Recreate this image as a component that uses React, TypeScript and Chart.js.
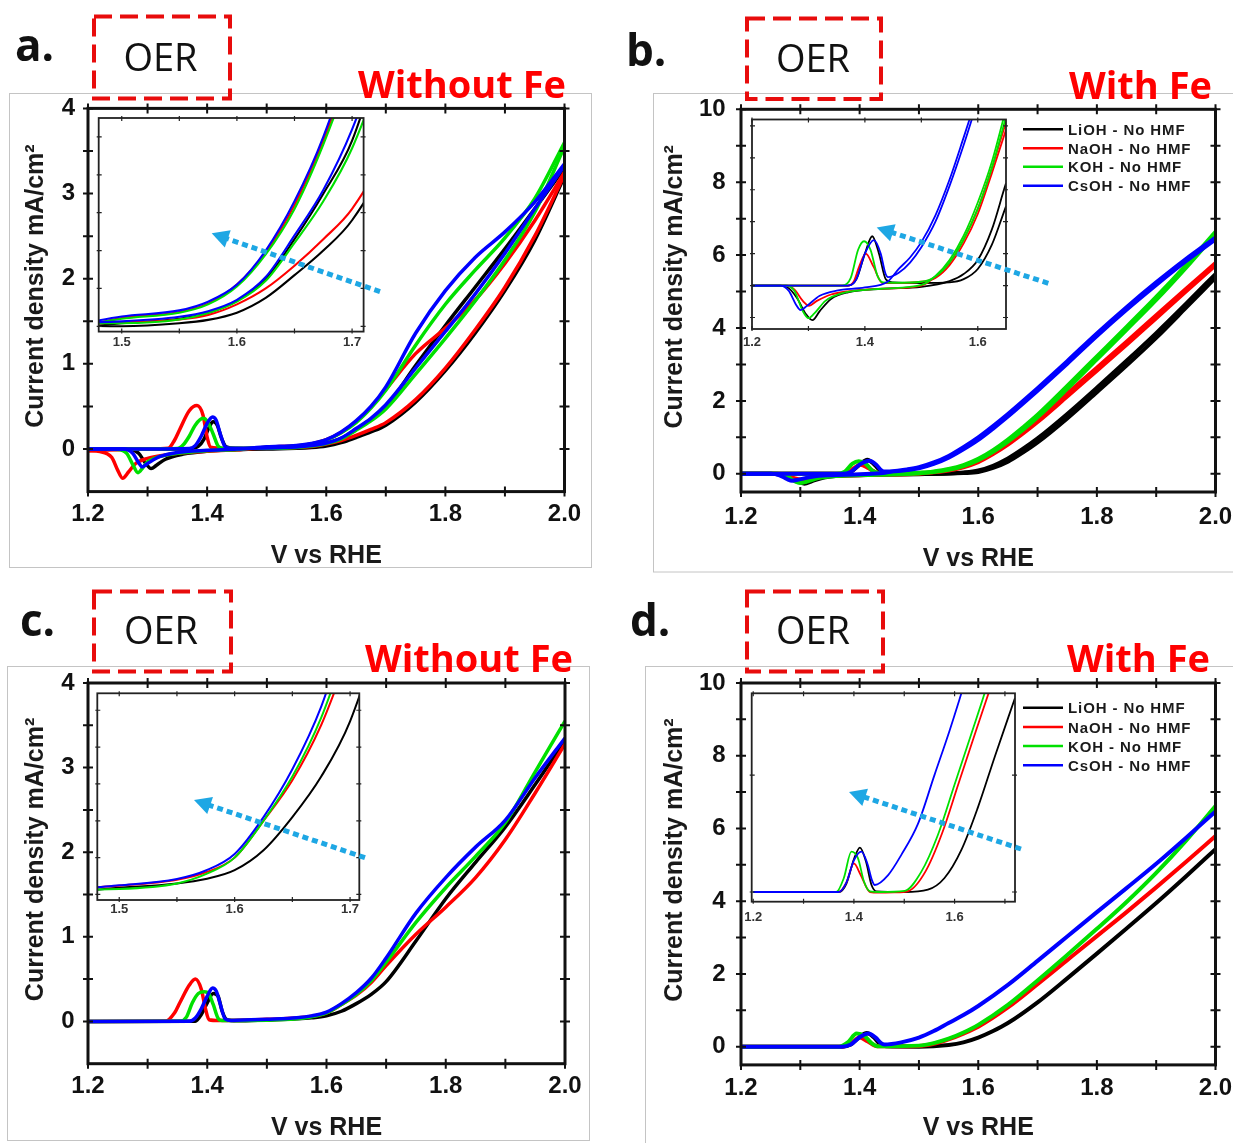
import React, { useEffect, useRef } from 'react';
import { Chart, registerables } from 'chart.js';

Chart.register(...registerables);

type Pt = [number, number];

// ---------------- data ----------------
const SERIES_NAMES = ['LiOH - No HMF', 'NaOH - No HMF', 'KOH - No HMF', 'CsOH - No HMF'];

const X_TICKS_MAIN = [1.2, 1.4, 1.6, 1.8, 2.0];
const X_MINOR_MAIN = [1.2, 1.3, 1.4, 1.5, 1.6, 1.7, 1.8, 1.9, 2.0];
const Y_TICKS_NOFE = [0, 1, 2, 3, 4];
const Y_MINOR_NOFE = [0, 0.5, 1, 1.5, 2, 2.5, 3, 3.5, 4];
const Y_TICKS_FE = [0, 2, 4, 6, 8, 10];
const Y_MINOR_FE = [0, 1, 2, 3, 4, 5, 6, 7, 8, 9, 10];
const INSET_X_TICKS_NOFE = [1.5, 1.6, 1.7];
const INSET_X_MINOR_NOFE = [1.5, 1.55, 1.6, 1.65, 1.7];
const INSET_Y_MINOR_NOFE = [0, 0.1, 0.2, 0.3, 0.4, 0.5];
const INSET_X_TICKS_FE = [1.2, 1.4, 1.6];
const INSET_X_MINOR_FE = [1.2, 1.3, 1.4, 1.5, 1.6, 1.7];
const INSET_Y_MINOR_B = [-0.25, 0, 0.25, 0.5, 0.75, 1, 1.25];
const INSET_Y_MINOR_D = [0, 1];

// Panel a: CV without Fe (forward / reverse sweeps), main + inset
const A_LIOH_FWD: Pt[] = [[1.2,0],[1.3,0],[1.37,0.004],[1.385,0.03],[1.395,0.12],[1.403,0.25],[1.41,0.32],[1.417,0.28],[1.424,0.13],[1.432,0.025],[1.45,0.006],[1.5,0.0],[1.55,0.008],[1.575,0.017],[1.6,0.036],[1.625,0.075],[1.65,0.135],[1.675,0.2],[1.7,0.28],[1.75,0.55],[1.8,0.92],[1.85,1.36],[1.9,1.86],[1.95,2.45],[2.0,3.2]];
const A_LIOH_REV: Pt[] = [[1.2,0],[1.27,-0.002],[1.285,-0.05],[1.297,-0.17],[1.306,-0.23],[1.315,-0.19],[1.33,-0.12],[1.36,-0.06],[1.4,-0.025],[1.45,-0.008],[1.5,0.008],[1.55,0.02],[1.575,0.035],[1.6,0.068],[1.625,0.125],[1.65,0.23],[1.675,0.35],[1.7,0.49],[1.75,0.98],[1.8,1.45],[1.85,1.9],[1.9,2.35],[1.95,2.82],[2.0,3.3]];
const A_NAOH_FWD: Pt[] = [[1.2,-0.02],[1.25,-0.008],[1.3,0],[1.335,0.01],[1.345,0.1],[1.354,0.23],[1.37,0.45],[1.383,0.51],[1.393,0.4],[1.4,0.14],[1.406,0.02],[1.43,0.006],[1.5,0.01],[1.55,0.018],[1.575,0.03],[1.6,0.058],[1.625,0.1],[1.65,0.16],[1.675,0.23],[1.7,0.31],[1.75,0.58],[1.8,0.95],[1.85,1.4],[1.9,1.9],[1.95,2.5],[2.0,3.22]];
const A_NAOH_REV: Pt[] = [[1.2,-0.02],[1.22,-0.03],[1.24,-0.1],[1.25,-0.25],[1.258,-0.343],[1.268,-0.27],[1.28,-0.17],[1.3,-0.11],[1.33,-0.07],[1.36,-0.045],[1.4,-0.025],[1.45,-0.01],[1.5,0.022],[1.55,0.038],[1.575,0.06],[1.6,0.11],[1.625,0.195],[1.65,0.32],[1.675,0.49],[1.7,0.7],[1.75,1.12],[1.8,1.42],[1.85,1.75],[1.9,2.18],[1.95,2.68],[2.0,3.25]];
const A_KOH_FWD: Pt[] = [[1.2,0],[1.3,0],[1.35,0.005],[1.36,0.05],[1.37,0.15],[1.38,0.28],[1.393,0.36],[1.4,0.33],[1.41,0.18],[1.418,0.04],[1.425,0.01],[1.5,0.008],[1.55,0.018],[1.575,0.035],[1.6,0.065],[1.625,0.12],[1.65,0.22],[1.675,0.33],[1.7,0.47],[1.75,0.88],[1.8,1.3],[1.85,1.74],[1.9,2.22],[1.95,2.78],[2.0,3.55]];
const A_KOH_REV: Pt[] = [[1.2,0],[1.25,-0.005],[1.265,-0.05],[1.275,-0.18],[1.284,-0.278],[1.292,-0.22],[1.3,-0.15],[1.32,-0.09],[1.35,-0.05],[1.4,-0.02],[1.45,-0.005],[1.5,0.02],[1.55,0.036],[1.575,0.058],[1.6,0.105],[1.625,0.19],[1.65,0.31],[1.675,0.48],[1.7,0.69],[1.75,1.22],[1.8,1.7],[1.85,2.1],[1.9,2.48],[1.95,2.94],[2.0,3.6]];
const A_CSOH_FWD: Pt[] = [[1.2,0],[1.3,0],[1.37,0.005],[1.38,0.04],[1.39,0.15],[1.4,0.3],[1.409,0.375],[1.415,0.34],[1.422,0.18],[1.43,0.03],[1.44,0.01],[1.5,0.013],[1.55,0.025],[1.575,0.04],[1.6,0.07],[1.625,0.13],[1.65,0.24],[1.675,0.36],[1.7,0.52],[1.75,0.95],[1.8,1.38],[1.85,1.82],[1.9,2.3],[1.95,2.82],[2.0,3.33]];
const A_CSOH_REV: Pt[] = [[1.2,0],[1.26,0],[1.275,-0.05],[1.285,-0.16],[1.291,-0.21],[1.3,-0.17],[1.32,-0.09],[1.35,-0.04],[1.4,-0.015],[1.45,0],[1.5,0.026],[1.55,0.042],[1.575,0.065],[1.6,0.11],[1.625,0.2],[1.65,0.33],[1.675,0.5],[1.7,0.73],[1.75,1.36],[1.8,1.86],[1.85,2.25],[1.9,2.55],[1.95,2.9],[2.0,3.35]];

// Panel b: CV with Fe (main)
const B_LIOH_FWD: Pt[] = [[1.2,0],[1.37,0],[1.385,0.05],[1.4,0.25],[1.413,0.386],[1.425,0.25],[1.437,0.05],[1.45,0.02],[1.5,0.0],[1.55,0.005],[1.575,0.02],[1.6,0.05],[1.625,0.16],[1.65,0.33],[1.675,0.58],[1.7,0.86],[1.75,1.52],[1.8,2.24],[1.85,2.97],[1.9,3.73],[1.95,4.55],[2.0,5.38]];
const B_LIOH_REV: Pt[] = [[1.2,0],[1.25,0],[1.265,-0.02],[1.28,-0.1],[1.295,-0.22],[1.307,-0.271],[1.32,-0.2],[1.34,-0.105],[1.37,-0.053],[1.43,-0.026],[1.5,-0.01],[1.55,0.01],[1.575,0.035],[1.6,0.09],[1.625,0.22],[1.65,0.42],[1.675,0.68],[1.7,0.97],[1.75,1.64],[1.8,2.36],[1.85,3.1],[1.9,3.86],[1.95,4.66],[2.0,5.48]];
const B_NAOH_FWD: Pt[] = [[1.2,0],[1.37,0],[1.38,0.03],[1.39,0.15],[1.4015,0.25],[1.415,0.15],[1.431,0.02],[1.45,0.01],[1.5,0.02],[1.525,0.04],[1.55,0.09],[1.575,0.18],[1.6,0.32],[1.625,0.54],[1.65,0.8],[1.675,1.1],[1.7,1.42],[1.75,2.12],[1.8,2.83],[1.85,3.54],[1.9,4.27],[1.95,5.0],[2.0,5.72]];
const B_NAOH_REV: Pt[] = [[1.2,0],[1.26,0],[1.275,-0.03],[1.29,-0.12],[1.301,-0.158],[1.315,-0.12],[1.34,-0.07],[1.37,-0.045],[1.43,-0.025],[1.5,0.0],[1.525,0.045],[1.55,0.11],[1.575,0.21],[1.6,0.36],[1.625,0.59],[1.65,0.86],[1.675,1.17],[1.7,1.5],[1.75,2.2],[1.8,2.91],[1.85,3.62],[1.9,4.35],[1.95,5.07],[2.0,5.78]];
const B_KOH_FWD: Pt[] = [[1.2,0],[1.36,0],[1.375,0.06],[1.388,0.28],[1.3985,0.347],[1.41,0.28],[1.422,0.08],[1.432,0.025],[1.45,0.015],[1.5,0.03],[1.525,0.05],[1.55,0.11],[1.575,0.21],[1.6,0.37],[1.625,0.6],[1.65,0.88],[1.675,1.2],[1.7,1.55],[1.75,2.33],[1.8,3.14],[1.85,3.95],[1.9,4.77],[1.95,5.65],[2.0,6.58]];
const B_KOH_REV: Pt[] = [[1.2,0],[1.26,0],[1.275,-0.04],[1.29,-0.2],[1.3,-0.255],[1.31,-0.22],[1.33,-0.12],[1.36,-0.06],[1.43,-0.025],[1.5,0.01],[1.525,0.06],[1.55,0.13],[1.575,0.24],[1.6,0.41],[1.625,0.65],[1.65,0.94],[1.675,1.27],[1.7,1.62],[1.75,2.41],[1.8,3.22],[1.85,4.03],[1.9,4.85],[1.95,5.72],[2.0,6.64]];
const B_CSOH_FWD: Pt[] = [[1.2,0],[1.37,0],[1.385,0.05],[1.4,0.25],[1.416,0.355],[1.428,0.25],[1.436,0.1],[1.441,0.06],[1.46,0.07],[1.48,0.1],[1.5,0.15],[1.525,0.27],[1.55,0.44],[1.575,0.67],[1.6,0.93],[1.625,1.24],[1.65,1.57],[1.675,1.92],[1.7,2.28],[1.75,3.02],[1.8,3.78],[1.85,4.5],[1.9,5.18],[1.95,5.83],[2.0,6.43]];
const B_CSOH_REV: Pt[] = [[1.2,0],[1.25,0],[1.265,-0.04],[1.278,-0.15],[1.286,-0.192],[1.297,-0.16],[1.32,-0.08],[1.35,-0.04],[1.4,-0.015],[1.44,0.02],[1.46,0.08],[1.48,0.12],[1.5,0.18],[1.525,0.31],[1.55,0.49],[1.575,0.73],[1.6,1.0],[1.625,1.31],[1.65,1.64],[1.675,1.99],[1.7,2.35],[1.75,3.09],[1.8,3.85],[1.85,4.57],[1.9,5.25],[1.95,5.89],[2.0,6.48]];

// Panel b inset (its own vertical scale)
const BI_LIOH_FWD: Pt[] = [[1.2,0],[1.37,0],[1.385,0.05],[1.4,0.25],[1.413,0.386],[1.425,0.25],[1.437,0.05],[1.45,0.025],[1.5,0.02],[1.55,0.025],[1.575,0.05],[1.6,0.13],[1.625,0.32],[1.65,0.62],[1.675,0.9]];
const BI_LIOH_REV: Pt[] = [[1.2,0],[1.25,0],[1.265,-0.02],[1.28,-0.1],[1.295,-0.22],[1.307,-0.271],[1.32,-0.2],[1.34,-0.105],[1.37,-0.053],[1.43,-0.026],[1.5,-0.01],[1.55,0.035],[1.575,0.09],[1.6,0.2],[1.625,0.44],[1.65,0.8],[1.675,1.1]];
const BI_NAOH_FWD: Pt[] = [[1.2,0],[1.37,0],[1.38,0.03],[1.39,0.15],[1.4015,0.25],[1.415,0.15],[1.431,0.02],[1.45,0.02],[1.5,0.03],[1.525,0.06],[1.55,0.16],[1.575,0.33],[1.6,0.56],[1.625,0.88],[1.65,1.22],[1.675,1.58]];
const BI_NAOH_REV: Pt[] = [[1.2,0],[1.26,0],[1.275,-0.03],[1.29,-0.12],[1.301,-0.158],[1.315,-0.12],[1.34,-0.07],[1.37,-0.045],[1.43,-0.025],[1.5,0.0],[1.525,0.07],[1.55,0.18],[1.575,0.36],[1.6,0.6],[1.625,0.92],[1.65,1.28],[1.675,1.64]];
const BI_KOH_FWD: Pt[] = [[1.2,0],[1.36,0],[1.375,0.06],[1.388,0.28],[1.3985,0.347],[1.41,0.28],[1.422,0.08],[1.432,0.025],[1.45,0.022],[1.5,0.03],[1.525,0.07],[1.55,0.18],[1.575,0.36],[1.6,0.6],[1.625,0.92],[1.65,1.32],[1.675,1.7]];
const BI_KOH_REV: Pt[] = [[1.2,0],[1.26,0],[1.275,-0.04],[1.29,-0.2],[1.3,-0.255],[1.31,-0.22],[1.33,-0.12],[1.36,-0.06],[1.43,-0.025],[1.5,0.005],[1.525,0.075],[1.55,0.2],[1.575,0.39],[1.6,0.65],[1.625,0.97],[1.65,1.38],[1.675,1.76]];
const BI_CSOH_FWD: Pt[] = [[1.2,0],[1.37,0],[1.385,0.05],[1.4,0.25],[1.416,0.355],[1.428,0.25],[1.436,0.1],[1.441,0.066],[1.46,0.1],[1.48,0.18],[1.5,0.3],[1.525,0.5],[1.55,0.78],[1.575,1.1],[1.6,1.45],[1.625,1.8]];
const BI_CSOH_REV: Pt[] = [[1.2,0],[1.25,0],[1.265,-0.04],[1.278,-0.15],[1.286,-0.192],[1.297,-0.16],[1.32,-0.08],[1.35,-0.04],[1.4,-0.015],[1.44,0.03],[1.46,0.13],[1.48,0.22],[1.5,0.34],[1.525,0.55],[1.55,0.83],[1.575,1.16],[1.6,1.5],[1.625,1.85]];

// Panel c: LSV without Fe, main + inset
const C_LIOH: Pt[] = [[1.2,0],[1.38,0.002],[1.39,0.08],[1.4,0.22],[1.41,0.33],[1.418,0.3],[1.425,0.12],[1.433,0.02],[1.45,0.008],[1.5,0.018],[1.55,0.03],[1.575,0.042],[1.6,0.066],[1.625,0.12],[1.65,0.21],[1.675,0.32],[1.7,0.47],[1.75,0.95],[1.8,1.45],[1.85,1.88],[1.9,2.3],[1.95,2.8],[2.0,3.32]];
const C_NAOH: Pt[] = [[1.2,0],[1.33,0.002],[1.345,0.1],[1.354,0.22],[1.37,0.43],[1.38,0.5],[1.39,0.38],[1.397,0.15],[1.403,0.02],[1.42,0.01],[1.5,0.024],[1.55,0.04],[1.575,0.06],[1.6,0.1],[1.625,0.2],[1.65,0.31],[1.675,0.46],[1.7,0.66],[1.75,1.03],[1.8,1.35],[1.85,1.7],[1.9,2.15],[1.95,2.7],[2.0,3.28]];
const C_KOH: Pt[] = [[1.2,0],[1.355,0.002],[1.365,0.05],[1.375,0.22],[1.385,0.33],[1.395,0.35],[1.402,0.33],[1.41,0.2],[1.418,0.04],[1.425,0.012],[1.5,0.015],[1.55,0.03],[1.575,0.055],[1.6,0.1],[1.625,0.2],[1.65,0.32],[1.675,0.48],[1.7,0.7],[1.75,1.17],[1.8,1.58],[1.85,1.95],[1.9,2.35],[1.95,2.95],[2.0,3.55]];
const C_CSOH: Pt[] = [[1.2,0],[1.37,0.002],[1.38,0.04],[1.39,0.15],[1.4,0.3],[1.409,0.395],[1.415,0.36],[1.422,0.2],[1.43,0.03],[1.44,0.012],[1.5,0.025],[1.55,0.042],[1.575,0.065],[1.6,0.11],[1.625,0.21],[1.65,0.34],[1.675,0.51],[1.7,0.75],[1.75,1.28],[1.8,1.7],[1.85,2.06],[1.9,2.38],[1.95,2.88],[2.0,3.35]];

// Panel d: LSV with Fe (main) and its inset
const D_LIOH: Pt[] = [[1.2,0],[1.37,0],[1.385,0.06],[1.4,0.27],[1.412,0.38],[1.424,0.26],[1.435,0.06],[1.445,0.01],[1.5,0.0],[1.55,0.05],[1.575,0.12],[1.6,0.25],[1.625,0.43],[1.65,0.65],[1.7,1.22],[1.75,1.88],[1.8,2.56],[1.85,3.25],[1.9,3.95],[1.95,4.68],[2.0,5.43]];
const D_NAOH: Pt[] = [[1.2,0],[1.37,0],[1.385,0.08],[1.4,0.25],[1.413,0.15],[1.43,0.01],[1.5,0.02],[1.525,0.08],[1.55,0.2],[1.575,0.36],[1.6,0.55],[1.65,1.08],[1.7,1.72],[1.75,2.38],[1.8,3.04],[1.85,3.7],[1.9,4.38],[1.95,5.08],[2.0,5.79]];
const D_KOH: Pt[] = [[1.2,0],[1.365,0],[1.38,0.12],[1.395,0.36],[1.408,0.3],[1.42,0.1],[1.432,0.01],[1.5,0.03],[1.525,0.1],[1.55,0.22],[1.575,0.39],[1.6,0.6],[1.65,1.15],[1.7,1.82],[1.75,2.52],[1.8,3.24],[1.85,3.98],[1.9,4.78],[1.95,5.66],[2.0,6.62]];
const D_CSOH: Pt[] = [[1.2,0],[1.37,0],[1.385,0.06],[1.4,0.26],[1.415,0.36],[1.427,0.25],[1.436,0.1],[1.442,0.06],[1.47,0.12],[1.5,0.25],[1.525,0.43],[1.55,0.65],[1.575,0.87],[1.6,1.12],[1.65,1.7],[1.7,2.36],[1.75,3.03],[1.8,3.7],[1.85,4.36],[1.9,5.03],[1.95,5.74],[2.0,6.47]];
const DI_LIOH: Pt[] = [[1.2,0],[1.37,0],[1.385,0.07],[1.4,0.28],[1.412,0.38],[1.424,0.26],[1.435,0.06],[1.445,0.005],[1.5,0.0],[1.547,0.02],[1.58,0.12],[1.6135,0.36],[1.646,0.72],[1.68,1.16],[1.72,1.66]];
const DI_NAOH: Pt[] = [[1.2,0],[1.37,0],[1.385,0.08],[1.4,0.245],[1.413,0.15],[1.432,0.0],[1.45,-0.006],[1.48,-0.004],[1.509,0.01],[1.542,0.174],[1.575,0.5],[1.608,0.93],[1.641,1.36],[1.669,1.72],[1.69,2.0]];
const DI_KOH: Pt[] = [[1.2,0],[1.365,0],[1.38,0.12],[1.395,0.345],[1.408,0.29],[1.42,0.09],[1.432,0.005],[1.45,0.0],[1.501,0.01],[1.534,0.174],[1.567,0.49],[1.6,0.92],[1.633,1.35],[1.661,1.72],[1.68,2.0]];
const DI_CSOH: Pt[] = [[1.2,0],[1.37,0],[1.385,0.08],[1.4,0.27],[1.415,0.345],[1.427,0.24],[1.436,0.1],[1.4415,0.06],[1.468,0.145],[1.4945,0.32],[1.527,0.58],[1.56,1.0],[1.59,1.38],[1.6135,1.7],[1.625,1.86]];

const PANEL_A: Pt[][][] = [[A_LIOH_FWD, A_LIOH_REV], [A_NAOH_FWD, A_NAOH_REV], [A_KOH_FWD, A_KOH_REV], [A_CSOH_FWD, A_CSOH_REV]];
const PANEL_B: Pt[][][] = [[B_LIOH_FWD, B_LIOH_REV], [B_NAOH_FWD, B_NAOH_REV], [B_KOH_FWD, B_KOH_REV], [B_CSOH_FWD, B_CSOH_REV]];
const PANEL_B_INSET: Pt[][][] = [[BI_LIOH_FWD, BI_LIOH_REV], [BI_NAOH_FWD, BI_NAOH_REV], [BI_KOH_FWD, BI_KOH_REV], [BI_CSOH_FWD, BI_CSOH_REV]];
const PANEL_C: Pt[][][] = [[C_LIOH], [C_NAOH], [C_KOH], [C_CSOH]];
const PANEL_D: Pt[][][] = [[D_LIOH], [D_NAOH], [D_KOH], [D_CSOH]];
const PANEL_D_INSET: Pt[][][] = [[DI_LIOH], [DI_NAOH], [DI_KOH], [DI_CSOH]];

// ---------------- styling ----------------
const COLORS = ['#000000', '#ff0000', '#00e000', '#0000ff'];
const ORDERS = [3, 2, 1, 0];
const AXIS_FONT = "'Liberation Sans', Arial, Helvetica, sans-serif";
const DECO_FONT = "'Open Sans', 'Liberation Sans', sans-serif";
const X_TITLE = 'V vs RHE';
const Y_TITLE = '    Current density mA/cm\u00b2';

interface Series { label: string; data: Pt[]; color: string; order: number }
interface Box { left: number; top: number; width: number; height: number }
interface PlotSpec {
  box: Box;
  pad: { left: number; right: number; top: number; bottom: number };
  xRange: [number, number];
  yRange: [number, number];
  xTicks: number[];
  yTicks: number[] | null;
  xMinor: number[];
  yMinor: number[];
  yWidth: number;
  xHeight: number;
  xLabelPad: number;
  yLabelPad: number;
  tickFont: number;
  tickColor: string;
  titles: boolean;
  series: Series[];
  lineWidth: number;
  frameWidth: number;
  frameColor: string;
  tickIn: number;
  tickOut: number;
  tickWidth: number;
  bg: boolean;
}

function buildSeries(groups: Pt[][][]): Series[] {
  const out: Series[] = [];
  groups.forEach((curves, i) => {
    curves.forEach((c) => out.push({ label: SERIES_NAMES[i], data: c, color: COLORS[i], order: ORDERS[i] }));
  });
  return out;
}

const framePlugin = {
  id: 'frame',
  beforeDatasetsDraw(chart: any, _a: any, opts: any) {
    if (!opts.bg) return;
    const { ctx, chartArea: a } = chart;
    ctx.save();
    ctx.fillStyle = '#ffffff';
    ctx.fillRect(a.left, a.top, a.right - a.left, a.bottom - a.top);
    ctx.restore();
  },
  afterDatasetsDraw(chart: any, _a: any, opts: any) {
    const { ctx, chartArea: a, scales } = chart;
    const xs = scales.x;
    const ys = scales.y;
    ctx.save();
    ctx.strokeStyle = opts.color;
    ctx.lineWidth = opts.tickWidth;
    ctx.beginPath();
    for (const v of opts.xMinor as number[]) {
      const p = xs.getPixelForValue(v);
      if (p < a.left - 0.5 || p > a.right + 0.5) continue;
      ctx.moveTo(p, a.bottom - opts.tickIn);
      ctx.lineTo(p, a.bottom + opts.tickOut);
      ctx.moveTo(p, a.top + opts.tickIn);
      ctx.lineTo(p, a.top - opts.tickOut);
    }
    for (const v of opts.yMinor as number[]) {
      const p = ys.getPixelForValue(v);
      if (p < a.top - 0.5 || p > a.bottom + 0.5) continue;
      ctx.moveTo(a.left + opts.tickIn, p);
      ctx.lineTo(a.left - opts.tickOut, p);
      ctx.moveTo(a.right - opts.tickIn, p);
      ctx.lineTo(a.right + opts.tickOut, p);
    }
    ctx.stroke();
    ctx.lineWidth = opts.frameWidth;
    ctx.strokeRect(a.left, a.top, a.right - a.left, a.bottom - a.top);
    ctx.restore();
  },
};

function buildConfig(s: PlotSpec): any {
  const tickFont = { family: AXIS_FONT, size: s.tickFont, weight: 'bold' as const };
  const titleFont = { family: AXIS_FONT, size: 25, weight: 'bold' as const };
  const yScale = s.yTicks
    ? {
        type: 'linear',
        min: s.yRange[0],
        max: s.yRange[1],
        afterBuildTicks: (sc: any) => { sc.ticks = (s.yTicks as number[]).map((v) => ({ value: v })); },
        afterFit: (sc: any) => { sc.width = s.yWidth; },
        ticks: { padding: 0, autoSkip: false, color: s.tickColor, font: tickFont, callback: (v: any) => String(v) },
        grid: { display: true, drawOnChartArea: false, drawTicks: true, tickLength: s.yLabelPad, color: 'rgba(0,0,0,0)' },
        border: { display: false },
        title: s.titles ? { display: true, text: Y_TITLE, color: '#1a1a1a', font: titleFont, padding: 0 } : { display: false },
      }
    : { type: 'linear', display: false, min: s.yRange[0], max: s.yRange[1] };
  return {
    type: 'line',
    data: {
      datasets: s.series.map((d) => ({
        label: d.label,
        data: d.data.map(([x, y]) => ({ x, y })),
        borderColor: d.color,
        backgroundColor: d.color,
        borderWidth: s.lineWidth,
        pointRadius: 0,
        pointHoverRadius: 0,
        fill: false,
        cubicInterpolationMode: 'monotone',
        order: d.order,
      })),
    },
    options: {
      responsive: false,
      maintainAspectRatio: false,
      animation: false,
      devicePixelRatio: 1,
      events: [],
      layout: { padding: s.pad },
      plugins: {
        legend: { display: false },
        tooltip: { enabled: false },
        frame: {
          bg: s.bg, color: s.frameColor, frameWidth: s.frameWidth, tickWidth: s.tickWidth,
          tickIn: s.tickIn, tickOut: s.tickOut, xMinor: s.xMinor, yMinor: s.yMinor,
        },
      },
      scales: {
        x: {
          type: 'linear',
          min: s.xRange[0],
          max: s.xRange[1],
          afterBuildTicks: (sc: any) => { sc.ticks = s.xTicks.map((v) => ({ value: v })); },
          afterFit: (sc: any) => { sc.height = s.xHeight; },
          ticks: { padding: 0, autoSkip: false, maxRotation: 0, minRotation: 0, color: s.tickColor, font: tickFont, callback: (v: any) => Number(v).toFixed(1) },
          grid: { display: true, drawOnChartArea: false, drawTicks: true, tickLength: s.xLabelPad, color: 'rgba(0,0,0,0)' },
          border: { display: false },
          title: s.titles ? { display: true, text: X_TITLE, color: '#1a1a1a', font: titleFont, padding: 0 } : { display: false },
        },
        y: yScale,
      },
    },
    plugins: [framePlugin],
  };
}

function Plot({ spec }: { spec: PlotSpec }) {
  const ref = useRef<HTMLCanvasElement | null>(null);
  useEffect(() => {
    if (!ref.current) return;
    const chart = new Chart(ref.current, buildConfig(spec));
    return () => chart.destroy();
  }, [spec]);
  const b = spec.box;
  return (
    <canvas
      ref={ref}
      width={b.width}
      height={b.height}
      style={{ position: 'absolute', left: b.left, top: b.top, width: b.width, height: b.height }}
    />
  );
}

const MAIN_BASE = {
  xTicks: X_TICKS_MAIN, xMinor: X_MINOR_MAIN, tickFont: 24, tickColor: '#111111', titles: true,
  lineWidth: 3.5, frameWidth: 3, frameColor: '#111111', tickIn: 5, tickOut: 5, tickWidth: 2, bg: false,
};
const INSET_BASE = {
  yTicks: null, yWidth: 0, yLabelPad: 0, tickFont: 13, tickColor: '#333333', titles: false,
  lineWidth: 1.8, frameWidth: 1.8, frameColor: '#222222', tickIn: 3, tickOut: 2, tickWidth: 1.2, bg: true,
};

const SPECS: PlotSpec[] = [
  {
    ...MAIN_BASE,
    box: { left: 0, top: 88, width: 600, height: 490 },
    pad: { left: 21, right: 35.5, top: 20.4, bottom: 7 },
    xRange: [1.2, 2.0], yRange: [-0.5, 4], yTicks: Y_TICKS_NOFE, yMinor: Y_MINOR_NOFE,
    yWidth: 67, xHeight: 79.4, xLabelPad: 8.5, yLabelPad: 13,
    series: buildSeries(PANEL_A),
  },
  {
    ...MAIN_BASE,
    lineWidth: 4,
    box: { left: 645, top: 88, width: 588, height: 490 },
    pad: { left: 14.8, right: 17.5, top: 21.3, bottom: 4 },
    xRange: [1.2, 2.0], yRange: [-0.5, 10], yTicks: Y_TICKS_FE, yMinor: Y_MINOR_FE,
    yWidth: 81.2, xHeight: 82, xLabelPad: 10.5, yLabelPad: 15.4,
    series: buildSeries(PANEL_B),
  },
  {
    ...MAIN_BASE,
    box: { left: 0, top: 662, width: 600, height: 481 },
    pad: { left: 21, right: 35, top: 21, bottom: 0 },
    xRange: [1.2, 2.0], yRange: [-0.5, 4], yTicks: Y_TICKS_NOFE, yMinor: Y_MINOR_NOFE,
    yWidth: 67, xHeight: 79.3, xLabelPad: 8.5, yLabelPad: 13.3,
    series: buildSeries(PANEL_C),
  },
  {
    ...MAIN_BASE,
    lineWidth: 4,
    box: { left: 645, top: 662, width: 588, height: 481 },
    pad: { left: 14.8, right: 17.5, top: 21, bottom: 0 },
    xRange: [1.2, 2.0], yRange: [-0.5, 10], yTicks: Y_TICKS_FE, yMinor: Y_MINOR_FE,
    yWidth: 81.2, xHeight: 78.1, xLabelPad: 9, yLabelPad: 15.4,
    series: buildSeries(PANEL_D),
  },
  {
    ...INSET_BASE,
    lineWidth: 2.1,
    box: { left: 92, top: 112, width: 280, height: 245 },
    pad: { left: 6.7, right: 8.4, top: 6, bottom: 0 },
    xRange: [1.48, 1.71], yRange: [-0.014, 0.55], xTicks: INSET_X_TICKS_NOFE,
    xMinor: INSET_X_MINOR_NOFE, yMinor: INSET_Y_MINOR_NOFE, xHeight: 25.4, xLabelPad: 2.6,
    series: buildSeries(PANEL_A),
  },
  {
    ...INSET_BASE,
    box: { left: 740, top: 113, width: 275, height: 245 },
    pad: { left: 12, right: 9, top: 6.5, bottom: 0 },
    xRange: [1.2, 1.65], yRange: [-0.34, 1.3], xTicks: INSET_X_TICKS_FE,
    xMinor: INSET_X_MINOR_FE, yMinor: INSET_Y_MINOR_B, xHeight: 29, xLabelPad: 5.7,
    series: buildSeries(PANEL_B_INSET),
  },
  {
    ...INSET_BASE,
    lineWidth: 2,
    box: { left: 90, top: 687, width: 280, height: 240 },
    pad: { left: 7.3, right: 10.7, top: 6.3, bottom: 0 },
    xRange: [1.481, 1.708], yRange: [-0.015, 0.546], xTicks: INSET_X_TICKS_NOFE,
    xMinor: INSET_X_MINOR_NOFE, yMinor: INSET_Y_MINOR_NOFE, xHeight: 27, xLabelPad: 1.5,
    series: buildSeries(PANEL_C),
  },
  {
    ...INSET_BASE,
    box: { left: 740, top: 687, width: 285, height: 245 },
    pad: { left: 11.7, right: 10, top: 6.3, bottom: 0 },
    xRange: [1.197, 1.72], yRange: [-0.083, 1.7], xTicks: INSET_X_TICKS_FE,
    xMinor: INSET_X_MINOR_FE, yMinor: INSET_Y_MINOR_D, xHeight: 30.3, xLabelPad: 7.5,
    series: buildSeries(PANEL_D_INSET),
  },
];

// ---------------- annotations ----------------
const PANEL_LABELS = [
  { text: 'a.', x: 15, y: 61 },
  { text: 'b.', x: 626, y: 66 },
  { text: 'c.', x: 20, y: 636 },
  { text: 'd.', x: 630, y: 636 },
];
const OER_BOXES = [
  { x: 94, y: 16.5, w: 136, h: 82, cx: 160.5, by: 71 },
  { x: 747, y: 18.5, w: 134, h: 80.5, cx: 813, by: 71.5 },
  { x: 94, y: 591.5, w: 137, h: 80, cx: 161, by: 644 },
  { x: 747, y: 591.5, w: 136, h: 80, cx: 813, by: 644 },
];
const CONDITION_LABELS = [
  { text: 'Without Fe', x: 566, y: 98 },
  { text: 'With Fe', x: 1212, y: 99 },
  { text: 'Without Fe', x: 573, y: 672 },
  { text: 'With Fe', x: 1210, y: 672 },
];
const ARROWS = [
  { x1: 380, y1: 291.7, x2: 211.7, y2: 233.3 },
  { x1: 1048.3, y1: 283.3, x2: 876.7, y2: 227.5 },
  { x1: 365, y1: 857.7, x2: 194, y2: 800 },
  { x1: 1021, y1: 849, x2: 849, y2: 792 },
];
const LEGENDS = [
  { x: 1023, rows: [129.3, 148.3, 166.7, 185.7] },
  { x: 1023, rows: [707.7, 727, 746, 765.3] },
];

function Arrow({ x1, y1, x2, y2 }: { x1: number; y1: number; x2: number; y2: number }) {
  const dx = x2 - x1;
  const dy = y2 - y1;
  const len = Math.hypot(dx, dy);
  const ux = dx / len;
  const uy = dy / len;
  const hl = 17;
  const hw = 9;
  const bx = x2 - ux * hl;
  const by = y2 - uy * hl;
  const nx = -uy;
  const ny = ux;
  const col = '#1ea7e4';
  return (
    <g>
      <line x1={x1} y1={y1} x2={bx + ux * 2} y2={by + uy * 2} stroke={col} strokeWidth={5} strokeDasharray="6 4" />
      <polygon points={`${x2},${y2} ${bx + nx * hw},${by + ny * hw} ${bx - nx * hw},${by - ny * hw}`} fill={col} />
    </g>
  );
}

export default function App() {
  return (
    <div style={{ position: 'fixed', left: 0, top: 0, width: 1233, height: 1143, overflow: 'hidden', background: '#ffffff' }}>
      {SPECS.map((s, i) => (
        <Plot key={i} spec={s} />
      ))}
      <svg width={1233} height={1143} style={{ position: 'absolute', left: 0, top: 0, pointerEvents: 'none' }}>
        <rect x={9.5} y={93.5} width={582} height={474} fill="none" stroke="#c4c4c4" strokeWidth={1} />
        <rect x={653.5} y={93.5} width={620} height={478.5} fill="none" stroke="#c4c4c4" strokeWidth={1} />
        <rect x={7.5} y={666.5} width={582} height={474} fill="none" stroke="#c4c4c4" strokeWidth={1} />
        <rect x={645.5} y={666.5} width={620} height={520} fill="none" stroke="#c4c4c4" strokeWidth={1} />
        {OER_BOXES.map((b, i) => (
          <g key={'oer' + i}>
            <rect x={b.x} y={b.y} width={b.w} height={b.h} fill="none" stroke="#e80c0c" strokeWidth={4} strokeDasharray="18 8" />
            <text x={b.cx} y={b.by} textAnchor="middle" fontFamily={DECO_FONT} fontSize={38} fill="#111111">OER</text>
          </g>
        ))}
        {PANEL_LABELS.map((p, i) => (
          <text key={'pl' + i} x={p.x} y={p.y} fontFamily={DECO_FONT} fontWeight={700} fontSize={44} fill="#111111">{p.text}</text>
        ))}
        {CONDITION_LABELS.map((c, i) => (
          <text key={'cl' + i} x={c.x} y={c.y} textAnchor="end" fontFamily={DECO_FONT} fontWeight={700} fontSize={38} fill="#ff0000">{c.text}</text>
        ))}
        {LEGENDS.map((lg, li) => (
          <g key={'lg' + li}>
            {lg.rows.map((ry, i) => (
              <g key={i}>
                <line x1={lg.x} y1={ry} x2={lg.x + 40} y2={ry} stroke={COLORS[i]} strokeWidth={2.5} />
                <text x={lg.x + 45} y={ry + 5.5} fontFamily={AXIS_FONT} fontWeight={700} fontSize={15} letterSpacing={0.9} fill="#1a1a1a">{SERIES_NAMES[i]}</text>
              </g>
            ))}
          </g>
        ))}
        {ARROWS.map((a, i) => (
          <Arrow key={'ar' + i} {...a} />
        ))}
      </svg>
    </div>
  );
}
